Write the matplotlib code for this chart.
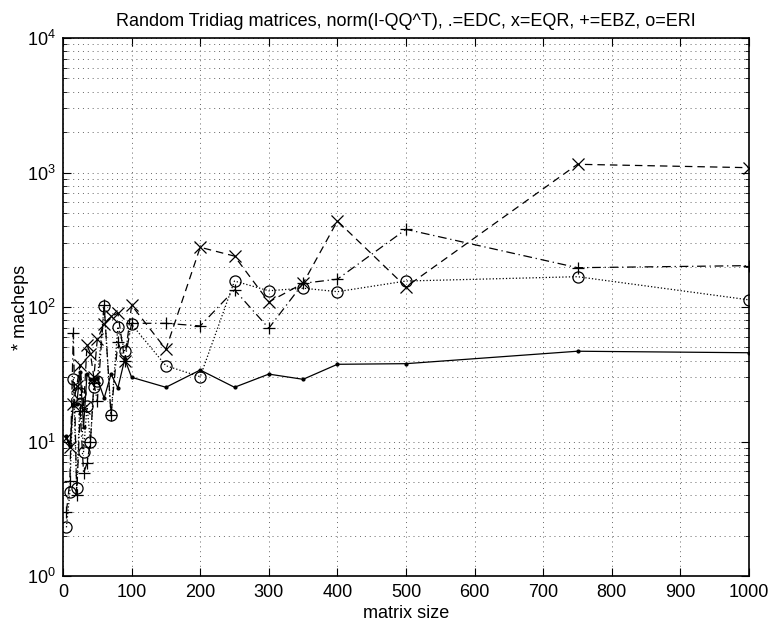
import matplotlib
matplotlib.use("Agg")
import matplotlib.pyplot as plt
from matplotlib.ticker import LogLocator, MultipleLocator, NullFormatter

sizes = [5, 10, 15, 20, 25, 30, 35, 40, 45, 50, 60, 70, 80, 90, 100,
         150, 200, 250, 300, 350, 400, 500, 750, 1000]
edc = [10.9, 9.3, 18.7, 19.0, 33.0, 12.9, 32.0, 29.0, 28.7, 29.5, 21.0, 31.7, 25.0, 41.0, 30.0,
       25.3, 34.0, 25.3, 31.7, 29.0, 37.5, 37.9, 46.9, 45.7]
eqr = [10.6, 9.1, 19.0, 26.0, 37.0, 17.7, 52.0, 45.0, 30.0, 57.5, 75.0, 85.0, 90.0, 40.0, 103.0,
       48.5, 278.0, 239.0, 109.0, 150.0, 436.0, 141.0, 1151.0, 1086.0]
ebz = [3.0, 5.1, 63.7, 4.0, 17.0, 5.8, 6.9, 10.0, 27.0, 20.0, 103.0, 15.7, 55.0, 40.0, 75.7,
       75.6, 72.3, 134.0, 69.5, 150.0, 161.0, 378.0, 196.0, 203.0]
eri = [2.3, 4.2, 29.3, 4.5, 22.8, 8.4, 18.5, 9.9, 25.6, 28.3, 102.0, 15.7, 71.4, 47.3, 74.4,
       36.6, 30.3, 156.0, 132.0, 138.0, 130.0, 156.0, 168.0, 113.0]

plt.rcParams['font.family'] = ['Liberation Sans', 'DejaVu Sans']
plt.rcParams['mathtext.fontset'] = 'custom'
plt.rcParams['mathtext.rm'] = 'Liberation Sans'
plt.rcParams['mathtext.it'] = 'Liberation Sans'
plt.rcParams['font.size'] = 13

fig = plt.figure(figsize=(7.72, 6.24), dpi=100)
ax = fig.add_axes([63/772, 48/624, (749-63)/772, (576-38)/624])

lw = 0.9
ax.semilogy(sizes, edc, '-', color='black', lw=lw, marker='.', markersize=4)
ax.semilogy(sizes, eqr, '--', color='black', lw=lw, marker='x', markersize=8,
            markeredgewidth=0.9, dashes=(6, 4))
ax.semilogy(sizes, ebz, '-.', color='black', lw=lw, marker='+', markersize=9,
            markeredgewidth=0.9, dashes=(7, 3, 1, 3))
ax.semilogy(sizes, eri, ':', color='black', lw=lw, marker='o', markersize=8,
            markerfacecolor='none', markeredgewidth=0.9)

ax.set_xlim(0, 1000)
ax.set_ylim(1, 1e4)
ax.xaxis.set_major_locator(MultipleLocator(100))
ax.yaxis.set_major_locator(LogLocator(base=10, numticks=10))
ax.yaxis.set_minor_locator(LogLocator(base=10, subs=range(2, 10), numticks=20))
ax.yaxis.set_minor_formatter(NullFormatter())

gstyle = dict(linestyle=(0, (1, 4)), color='0.4', lw=0.7)
ax.grid(True, which='major', axis='both', **gstyle)
ax.grid(True, which='minor', axis='y', **gstyle)

ax.tick_params(which='both', direction='in', top=True, right=True)
ax.tick_params(which='major', length=6, width=0.8)
ax.tick_params(axis='x', which='major', pad=6)
ax.tick_params(axis='y', which='major', pad=5)
ax.tick_params(which='minor', length=3, width=0.6)
for s in ax.spines.values():
    s.set_linewidth(1.2)

ax.set_title('Random Tridiag matrices, norm(I-QQ^T), .=EDC, x=EQR, +=EBZ, o=ERI',
             pad=9, fontsize=13)
ax.set_xlabel('matrix size', labelpad=3)
ax.set_ylabel('* macheps', labelpad=-1)

fig.savefig('out.png', dpi=100)
